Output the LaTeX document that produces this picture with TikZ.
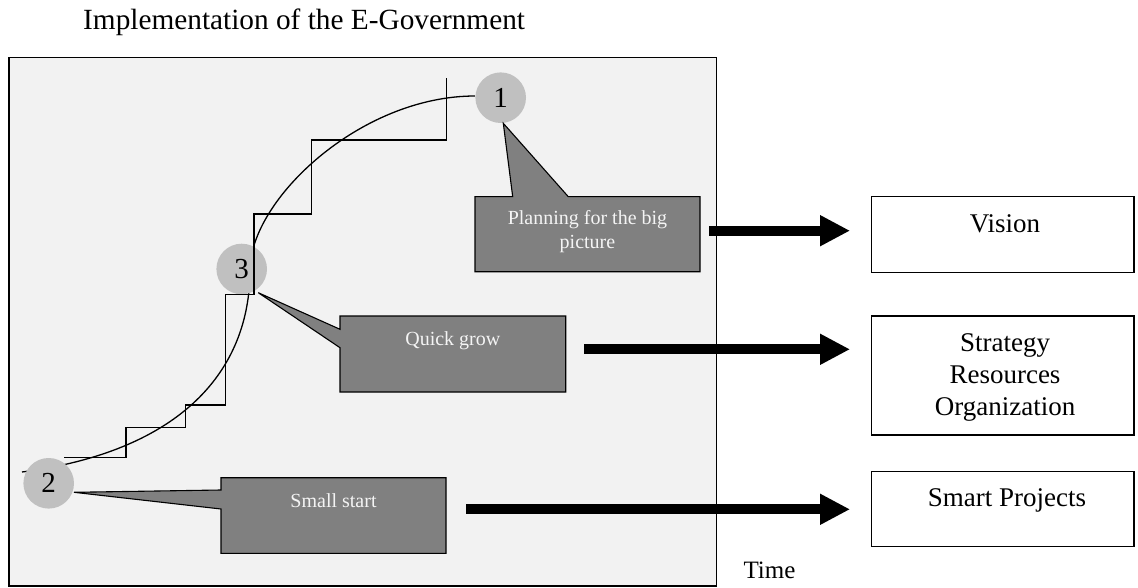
\documentclass[tikz,border=0pt]{standalone}
\usepackage{fontspec}
\setmainfont{Liberation Serif}
\usetikzlibrary{arrows.meta}
\definecolor{panelgray}{HTML}{F2F2F2}
\definecolor{bubblegray}{HTML}{808080}
\definecolor{dotgray}{HTML}{C0C0C0}
\definecolor{bubbletext}{HTML}{F4F4F4}
\begin{document}
\begin{tikzpicture}[x=1pt,y=-1pt,
  bigtxt/.style={font=\fontsize{27}{31}\selectfont, inner sep=0pt},
  calltxt/.style={font=\fontsize{20}{23}\selectfont, text=bubbletext, inner sep=0pt},
  numdot/.style={circle, fill=dotgray, minimum size=50.6pt, inner sep=0pt, font=\fontsize{29}{33}\selectfont},
  rbox/.style={draw, line width=1.3pt, inner sep=0pt},
  hollow/.style={draw=none, inner sep=0pt},
  callout/.style={draw, fill=bubblegray, line width=1.1pt, line join=miter},
  stairline/.style={line width=1.3pt},
  fatarrow/.style={line width=10pt, -{Triangle[length=30pt,width=29pt]}, shorten >=21pt},
]
\useasboundingbox (0,0) rectangle (1138,588);

% title
\node[inner sep=0pt, font=\fontsize{29.3}{33}\selectfont, anchor=base west] (title) at (83,29.3) {Implementation of the E-Government};

% main panel
\node[draw, fill=panelgray, line width=1.3pt, minimum width=707.7pt, minimum height=528.7pt, inner sep=0pt] (panel) at (362.85,321.65) {};

% growth curve
\draw[line width=1.3pt] (22,472) .. controls (182,451) and (250,370) .. (250,270)
  .. controls (250,200) and (360,96) .. (475,96);

% numbered circles
\node[numdot] (c1) at (500.7,97.7) {1};
\node[numdot] (c3) at (241.7,269) {3};
\node[numdot] (c2) at (48.7,483.3) {2};

% staircase
\draw[stairline] (64.3,457.7) -- (126,457.7) -- (126,427.7) -- (185.3,427.7) -- (185.3,405)
  -- (225.3,405) -- (225.3,294.3) -- (254,294.3) -- (254,214) -- (311.7,214) -- (311.7,140)
  -- (446.7,140) -- (446.7,78.3);

% callouts
\draw[callout] (475,196.7) -- (512.7,196.7) -- (503.3,123.3) -- (568.3,196.7) -- (700,196.7)
  -- (700,271.7) -- (475,271.7) -- cycle;
\node[hollow, minimum width=225pt, minimum height=75pt] (plan) at (587.5,234.2) {};
\node[calltxt, anchor=base] (plan1) at (587.5,225) {Planning for the big};
\node[calltxt, anchor=base] (plan2) at (587.5,248) {picture};

\draw[callout] (340,316) -- (565.7,316) -- (565.7,392) -- (340,392) -- (340,347.7)
  -- (258.3,292.7) -- (340,329.3) -- cycle;
\node[hollow, minimum width=225.7pt, minimum height=76pt] (quick) at (452.85,354) {};
\node[calltxt, anchor=base] (quicktxt) at (452.8,345) {Quick grow};

\draw[callout] (221,477.7) -- (446,477.7) -- (446,553.3) -- (221,553.3) -- (221,509)
  -- (74,492.3) -- (221,490) -- cycle;
\node[hollow, minimum width=225pt, minimum height=75.6pt] (small) at (333.5,515.5) {};
\node[calltxt, anchor=base] (smalltxt) at (333.5,507.3) {Small start};

% right-hand boxes
\node[rbox, minimum width=262.3pt, minimum height=75.6pt] (vision) at (1002.85,234.5) {};
\node[bigtxt, anchor=base] (visiontxt) at (1005,232.7) {Vision};

\node[rbox, minimum width=262.3pt, minimum height=119pt] (strategy) at (1002.85,375.5) {};
\node[bigtxt, anchor=base] (st1) at (1005,351.7) {Strategy};
\node[bigtxt, anchor=base] (st2) at (1005,383.5) {Resources};
\node[bigtxt, anchor=base] (st3) at (1005,415.2) {Organization};

\node[rbox, minimum width=262.3pt, minimum height=75pt] (smart) at (1002.85,509.2) {};
\node[bigtxt, anchor=base] (smarttxt) at (1007,506.7) {Smart Projects};

% arrows
\coordinate (a1) at (709.3,230.7);
\coordinate (a2) at (584,349.3);
\coordinate (a3) at (466,509.3);
\draw[fatarrow] (a1) -- (a1 -| vision.west);
\draw[fatarrow] (a2) -- (a2 -| strategy.west);
\draw[fatarrow] (a3) -- (a3 -| smart.west);

% time label
\node[bigtxt, font=\fontsize{25}{29}\selectfont, anchor=base west] (time) at (743.3,578.3) {Time};
\end{tikzpicture}
\end{document}
